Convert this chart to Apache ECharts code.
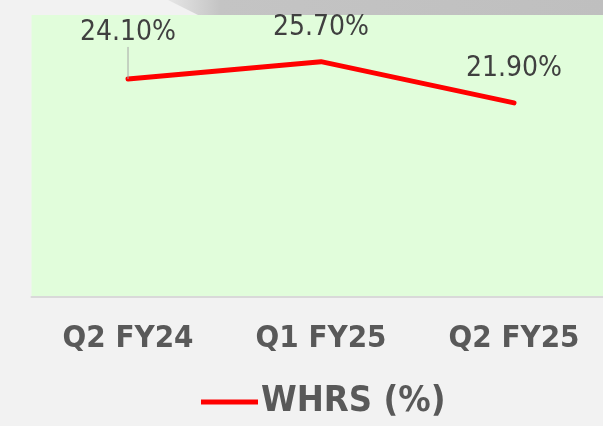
<!DOCTYPE html>
<html>
<head>
<meta charset="utf-8">
<script src="https://cdn.jsdelivr.net/npm/echarts@6/dist/echarts.min.js"></script>
<style>
  html, body { margin: 0; padding: 0; background: #f2f2f2; }
  #chart { width: 603px; height: 426px; }
</style>
</head>
<body>
<div id="chart"></div>
<script>
const categories = ['Q2 FY24', 'Q1 FY25', 'Q2 FY25'];
const whrs = [24.1, 25.7, 21.9];
const seriesName = 'WHRS (%)';

const myChart = echarts.init(document.getElementById('chart'));

// only the first point gets a guide line to its raised label
const lineData = whrs.map((v, i) => i === 0
    ? { value: v, labelLine: { show: true, lineStyle: { color: '#a6a6a6', width: 1 } } }
    : v);

const option = {
    backgroundColor: '#f2f2f2',
    animation: false,
    textStyle: { fontFamily: 'DejaVu Sans Condensed' },
    graphic: [
        {
            // grey band at the top (decoration)
            type: 'polygon',
            z: -1,
            shape: { points: [[168, 0], [603, 0], [603, 15], [198, 15]] },
            style: {
                fill: new echarts.graphic.LinearGradient(0, 0, 1, 0, [
                    { offset: 0, color: '#e6e6e6' },
                    { offset: 0.12, color: '#c4c4c4' },
                    { offset: 1, color: '#bfbfbf' }
                ])
            }
        }
    ],
    grid: {
        left: 31.5,
        width: 579,
        top: 15,
        bottom: 129,
        outerBoundsMode: 'none',
        show: true,
        backgroundColor: '#e1fddb',
        borderWidth: 0
    },
    legend: {
        top: 379,
        left: 196,
        data: [seriesName],
        icon: 'rect',
        itemWidth: 57,
        itemHeight: 5,
        itemGap: 4,
        textStyle: {
            fontSize: 36,
            fontWeight: 'bold',
            color: '#595959',
            padding: [0, 0, 0, -2]
        }
    },
    xAxis: {
        type: 'category',
        data: categories,
        axisLine: { show: true, lineStyle: { color: '#d9d9d9', width: 2 } },
        axisTick: { show: false },
        axisLabel: {
            margin: 26,
            fontSize: 31,
            fontWeight: 'bold',
            color: '#595959'
        }
    },
    yAxis: {
        type: 'value',
        min: 4,
        max: 30,
        show: false,
        splitLine: { show: false }
    },
    series: [
        {
            name: seriesName,
            type: 'line',
            data: lineData,
            showSymbol: true,
            symbol: 'circle',
            symbolSize: 0.1,
            color: '#ff0000',
            lineStyle: { color: '#ff0000', width: 5, cap: 'round', join: 'round' },
            label: {
                show: true,
                position: 'top',
                distance: 20,
                fontSize: 28,
                color: '#404040',
                formatter: p => p.value.toFixed(2) + '%'
            },
            labelLayout: function (params) {
                if (params.dataIndex === 0) {
                    return { dy: -12 };
                }
                return {};
            }
        }
    ]
};

myChart.setOption(option);
</script>
</body>
</html>
